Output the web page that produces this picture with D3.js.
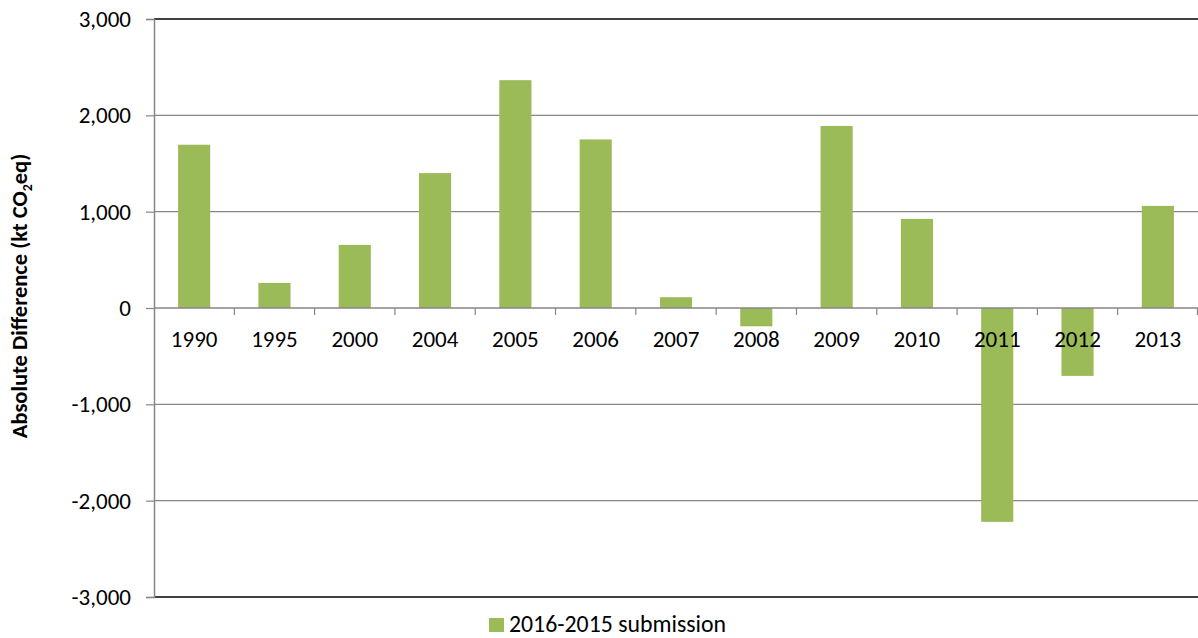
<!DOCTYPE html>
<html><head><meta charset="utf-8">
<script src="https://cdn.jsdelivr.net/npm/d3@7"></script>
<style>
body{margin:0;background:#fff;}
text{font-family:Carlito,Calibri,Lato,"Open Sans",sans-serif;fill:#000;}
</style></head>
<body><svg id="c" width="1198" height="638"></svg>
<script>
const categories = ["1990","1995","2000","2004","2005","2006","2007","2008","2009","2010","2011","2012","2013"];
const values = [1695, 260, 655, 1400, 2365, 1750, 112, -190, 1890, 925, -2220, -705, 1060];
const yTicks = [-3000,-2000,-1000,0,1000,2000,3000];
const seriesName = "2016-2015 submission";
const yTitle = "Absolute Difference (kt CO";

(function(){
const svg = d3.select("#c");
const mL = 154, mR = 1198, mT = 19, mB = 597;
const fs = 23;
const x = d3.scaleBand().domain(categories).range([mL, mR]).paddingInner(0.6).paddingOuter(0.3);
const xb = d3.scaleBand().domain(categories).range([mL, mR]);
const y = d3.scaleLinear().domain([-3000, 3000]).range([mB, mT]);
const fmt = d3.format(",");

// gridlines
svg.append("g").selectAll("line").data(yTicks.filter(d => d !== 0)).join("line")
  .attr("x1", mL).attr("x2", mR).attr("y1", d => y(d)).attr("y2", d => y(d))
  .attr("stroke", d => (d === 3000 || d === -3000) ? "#000" : "#868686")
  .attr("stroke-width", d => (d === 3000 || d === -3000) ? 1.5 : 1.2);

// bars
svg.append("g").selectAll("rect").data(categories).join("rect")
  .attr("x", (d) => x(d))
  .attr("width", x.bandwidth())
  .attr("y", (d, i) => y(Math.max(0, values[i])))
  .attr("height", (d, i) => Math.abs(y(values[i]) - y(0)))
  .attr("fill", "#9BBB59");

// y axis
const yAxis = svg.append("g").attr("transform", `translate(${mL},0)`)
  .call(d3.axisLeft(y).tickValues(yTicks).tickFormat(d => fmt(d).replace("−", "-")).tickSize(8).tickPadding(15));
yAxis.select(".domain").attr("stroke", "#868686").attr("stroke-width", 1.5);
yAxis.selectAll(".tick line").attr("stroke", "#868686").attr("stroke-width", 1.2);
yAxis.selectAll("text").style("font-size", fs + "px").attr("fill", "#000").attr("font-family", null);

// zero line with category ticks
svg.append("line").attr("x1", mL).attr("x2", mR).attr("y1", y(0)).attr("y2", y(0))
  .attr("stroke", "#868686").attr("stroke-width", 1.5);
svg.append("g").selectAll("line").data(categories.slice(1).concat(["_end"])).join("line")
  .attr("x1", d => d === "_end" ? mR - 0.5 : xb(d)).attr("x2", d => d === "_end" ? mR - 0.5 : xb(d))
  .attr("y1", y(0)).attr("y2", y(0) + 7)
  .attr("stroke", "#868686").attr("stroke-width", 1.2);
svg.append("g").selectAll("text").data(categories).join("text")
  .attr("x", d => xb(d) + xb.bandwidth() / 2)
  .attr("y", y(0) + 39)
  .attr("text-anchor", "middle")
  .style("font-size", fs + "px")
  .text(d => d);

// y title
const yt = svg.append("text")
  .attr("transform", `translate(27,296) rotate(-90)`)
  .attr("text-anchor", "middle")
  .style("font-size", "22.5px").style("font-weight", "bold");
yt.append("tspan").text(yTitle);
yt.append("tspan").text("2").attr("dy", 5).style("font-size", "14px");
yt.append("tspan").text("eq)").attr("dy", -5);

// legend
const lg = svg.append("g").attr("transform", "translate(489,618)");
lg.append("rect").attr("width", 15).attr("height", 14).attr("fill", "#9BBB59");
lg.append("text").attr("x", 20).attr("y", 14).style("font-size", "23.8px").text(seriesName);
})();
</script></body></html>
